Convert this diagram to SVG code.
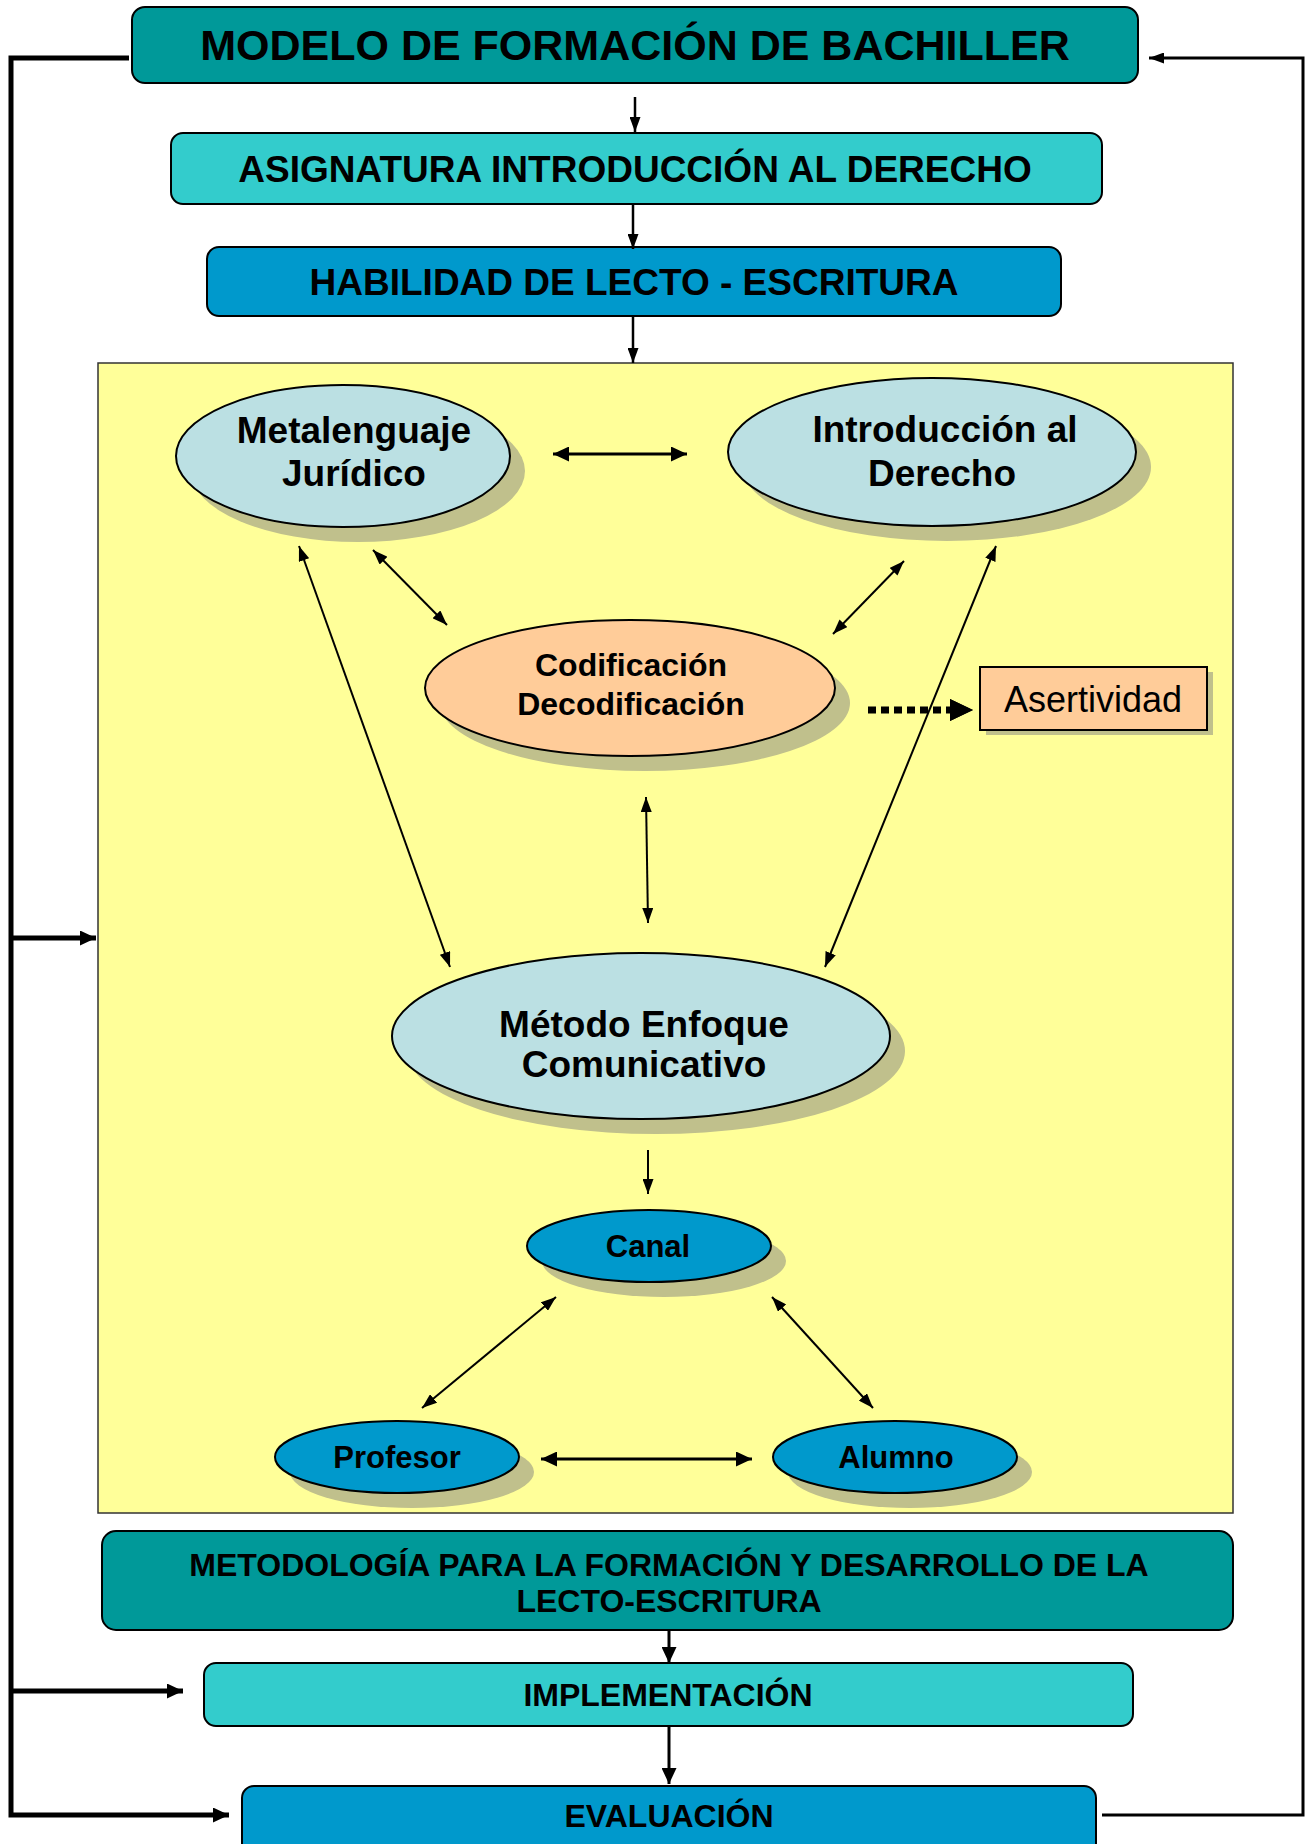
<svg xmlns="http://www.w3.org/2000/svg" width="1306" height="1844" viewBox="0 0 1306 1844">
<style>
.t{font-family:"Liberation Sans",Arial,sans-serif;font-weight:bold;fill:#000;text-anchor:middle}
.n{font-family:"Liberation Sans",Arial,sans-serif;font-weight:normal;fill:#000;text-anchor:middle}
.box{stroke:#000;stroke-width:2}
.ell{stroke:#000;stroke-width:2}
.sh{fill:#C0C08C;stroke:none}
.c{fill:none;stroke:#000;stroke-width:2}
.cb{fill:none;stroke:#000;stroke-width:3}
.cl{fill:none;stroke:#000;stroke-width:5}
</style>
<defs>
<marker id="ah" viewBox="0 0 15 11" markerWidth="15" markerHeight="11" refX="15" refY="5.5" orient="auto-start-reverse" markerUnits="userSpaceOnUse"><path d="M0,0 L15,5.5 L0,11 z" fill="#000"/></marker>
<marker id="ahb" viewBox="0 0 16 15" markerWidth="16" markerHeight="15" refX="16" refY="7.5" orient="auto-start-reverse" markerUnits="userSpaceOnUse"><path d="M0,0 L16,7.5 L0,15 z" fill="#000"/></marker>
<marker id="ahd" viewBox="0 0 23 22" markerWidth="23" markerHeight="22" refX="23" refY="11" orient="auto" markerUnits="userSpaceOnUse"><path d="M0,0 L23,11 L0,22 z" fill="#000"/></marker>
</defs>
<rect width="1306" height="1844" fill="#fff"/>

<g id="panel"><rect x="98" y="363" width="1135" height="1150" fill="#FFFF99" stroke="#333" stroke-width="1.5"/></g>

<g id="modelo"><rect class="box" x="132" y="7" width="1006" height="76" rx="13" fill="#009999"/><text class="t" x="635" y="60" font-size="43">MODELO DE FORMACIÓN DE BACHILLER</text></g>
<g id="asignatura"><rect class="box" x="171" y="133" width="931" height="71" rx="12" fill="#33CCCC"/><text class="t" x="635" y="182" font-size="37">ASIGNATURA INTRODUCCIÓN AL DERECHO</text></g>
<g id="habilidad"><rect class="box" x="207" y="247" width="854" height="69" rx="12" fill="#0099CC"/><text class="t" x="634" y="295" font-size="37">HABILIDAD DE LECTO - ESCRITURA</text></g>

<g id="metalenguaje"><ellipse class="sh" cx="358" cy="471" rx="167" ry="71"/><ellipse class="ell" cx="343" cy="456" rx="167" ry="71" fill="#BBE0E3"/><text class="t" x="354" y="443" font-size="37">Metalenguaje</text><text class="t" x="354" y="486" font-size="37">Jurídico</text></g>
<g id="introduccion"><ellipse class="sh" cx="947" cy="467" rx="204" ry="74"/><ellipse class="ell" cx="932" cy="452" rx="204" ry="74" fill="#BBE0E3"/><text class="t" x="945" y="442" font-size="37">Introducción al</text><text class="t" x="942" y="486" font-size="37">Derecho</text></g>
<g id="codificacion"><ellipse class="sh" cx="645" cy="703" rx="205" ry="68"/><ellipse class="ell" cx="630" cy="688" rx="205" ry="68" fill="#FFCC99"/><text class="t" x="631" y="676" font-size="32">Codificación</text><text class="t" x="631" y="715" font-size="32">Decodificación</text></g>
<g id="asertividad"><rect class="sh" x="986" y="672" width="227" height="63"/><rect x="980" y="667" width="227" height="63" fill="#FFCC99" stroke="#000" stroke-width="2"/><text class="n" x="1093" y="712" font-size="36">Asertividad</text></g>
<g id="metodo"><ellipse class="sh" cx="656" cy="1051" rx="249" ry="83"/><ellipse class="ell" cx="641" cy="1036" rx="249" ry="83" fill="#BBE0E3"/><text class="t" x="644" y="1037" font-size="37">Método Enfoque</text><text class="t" x="644" y="1077" font-size="37">Comunicativo</text></g>
<g id="canal"><ellipse class="sh" cx="664" cy="1261" rx="122" ry="36"/><ellipse class="ell" cx="649" cy="1246" rx="122" ry="36" fill="#0099CC"/><text class="t" x="648" y="1257" font-size="31">Canal</text></g>
<g id="profesor"><ellipse class="sh" cx="412" cy="1472" rx="122" ry="36"/><ellipse class="ell" cx="397" cy="1457" rx="122" ry="36" fill="#0099CC"/><text class="t" x="397" y="1468" font-size="31">Profesor</text></g>
<g id="alumno"><ellipse class="sh" cx="910" cy="1472" rx="122" ry="36"/><ellipse class="ell" cx="895" cy="1457" rx="122" ry="36" fill="#0099CC"/><text class="t" x="896" y="1468" font-size="31">Alumno</text></g>

<g id="metodologia"><rect class="box" x="102" y="1531" width="1131" height="99" rx="14" fill="#009999"/><text class="t" x="669" y="1576" font-size="32">METODOLOGÍA PARA LA FORMACIÓN Y DESARROLLO DE LA</text><text class="t" x="669" y="1612" font-size="32">LECTO-ESCRITURA</text></g>
<g id="implementacion"><rect class="box" x="204" y="1663" width="929" height="63" rx="12" fill="#33CCCC"/><text class="t" x="668" y="1706" font-size="32">IMPLEMENTACIÓN</text></g>
<g id="evaluacion"><rect class="box" x="242" y="1786" width="854" height="90" rx="12" fill="#0099CC"/><text class="t" x="669" y="1827" font-size="32">EVALUACIÓN</text></g>

<g id="connectors">
<line class="c" style="stroke-width:2.5" x1="635" y1="97" x2="635" y2="132" marker-end="url(#ah)"/>
<line class="c" style="stroke-width:2.5" x1="633" y1="204" x2="633" y2="249" marker-end="url(#ah)"/>
<line class="c" style="stroke-width:2.5" x1="633" y1="316" x2="633" y2="363" marker-end="url(#ah)"/>
<line class="cb" x1="553" y1="454" x2="687" y2="454" marker-start="url(#ahb)" marker-end="url(#ahb)"/>
<line class="c" x1="299" y1="546" x2="450" y2="967" marker-start="url(#ah)" marker-end="url(#ah)"/>
<line class="c" x1="373" y1="550" x2="447" y2="625" marker-start="url(#ah)" marker-end="url(#ah)"/>
<line class="c" x1="904" y1="561" x2="833" y2="634" marker-start="url(#ah)" marker-end="url(#ah)"/>
<line class="c" x1="996" y1="546" x2="825" y2="967" marker-start="url(#ah)" marker-end="url(#ah)"/>
<line class="c" x1="646" y1="797" x2="648" y2="923" marker-start="url(#ah)" marker-end="url(#ah)"/>
<line fill="none" stroke="#000" stroke-width="7" stroke-dasharray="8 5" x1="868" y1="710" x2="952" y2="710"/>
<line stroke="none" x1="950" y1="710" x2="973" y2="710" marker-end="url(#ahd)"/>
<path d="M950,699 L973,710 L950,721 z" fill="#000"/>
<line class="c" x1="648" y1="1150" x2="648" y2="1194" marker-end="url(#ah)"/>
<line class="c" x1="556" y1="1297" x2="422" y2="1408" marker-start="url(#ah)" marker-end="url(#ah)"/>
<line class="c" x1="772" y1="1297" x2="873" y2="1408" marker-start="url(#ah)" marker-end="url(#ah)"/>
<line class="cb" x1="541" y1="1459" x2="752" y2="1459" marker-start="url(#ahb)" marker-end="url(#ahb)"/>
<line class="cb" x1="669" y1="1630" x2="669" y2="1663" marker-end="url(#ahb)"/>
<line class="cb" x1="669" y1="1726" x2="669" y2="1784" marker-end="url(#ahb)"/>
<polyline class="cl" points="129,58 11,58 11,1815 229,1815" marker-end="url(#ahb)"/>
<line class="cl" x1="11" y1="938" x2="96" y2="938" marker-end="url(#ahb)"/>
<line class="cl" x1="11" y1="1691" x2="183" y2="1691" marker-end="url(#ahb)"/>
<polyline class="cb" points="1102,1815 1303,1815 1303,58 1149,58" marker-end="url(#ah)"/>
</g>
</svg>
